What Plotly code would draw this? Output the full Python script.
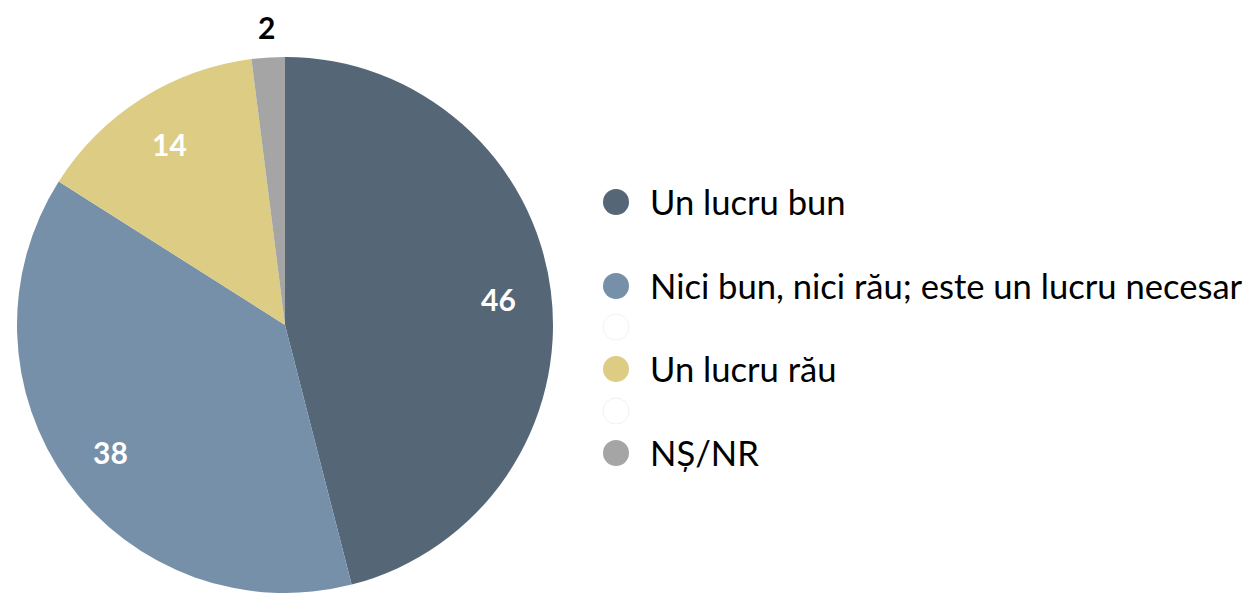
import math
import plotly.graph_objects as go

labels = ["Un lucru bun", "Nici bun, nici rău; este un lucru necesar", "Un lucru rău", "NȘ/NR"]
values = [46, 38, 14, 2]
colors = ["#556677", "#7590A8", "#DDCD84", "#A5A5A5"]
text_colors = ["white", "white", "white", "black"]
label_radius = [0.8, 0.8, 0.8, 1.115]  # fraction of pie radius

W, H = 1252, 593
FONT = "Lato"

fig = go.Figure()

R = 269
cx, cy = 285, 326
fig.add_trace(go.Pie(
    labels=labels, values=values, sort=False, direction="clockwise", rotation=0,
    marker=dict(colors=colors, line=dict(width=0)),
    textinfo="none", showlegend=False, hoverinfo="label+value",
    domain=dict(x=[(cx - R) / W, (cx + R) / W], y=[max(0, (H - cy - R) / H), (H - cy + R) / H]),
))

# value labels placed at mid-angle of each slice
total = sum(values)
cum = 0
for v, tc, lr in zip(values, text_colors, label_radius):
    mid = (cum + v / 2) / total * 2 * math.pi
    cum += v
    px = cx + lr * R * math.sin(mid)
    py = cy - lr * R * math.cos(mid)
    fig.add_annotation(x=px / W, y=1 - py / H, xref="paper", yref="paper",
                       text=f"<b>{v}</b>", showarrow=False,
                       xanchor="center", yanchor="middle",
                       font=dict(family=FONT, size=30, color=tc))

# custom legend with circle markers
leg_y = [202, 286, 369, 453]
blank_y = [327, 411]
mx, tx, r = 616, 648, 13
for y, lab, col in zip(leg_y, labels, colors):
    fig.add_shape(type="circle", xref="paper", yref="paper",
                  x0=(mx - r) / W, x1=(mx + r) / W, y0=1 - (y + r) / H, y1=1 - (y - r) / H,
                  fillcolor=col, line=dict(width=0))
    fig.add_annotation(x=tx / W, y=1 - (y - 1) / H, xref="paper", yref="paper", text=lab,
                       showarrow=False, xanchor="left", yanchor="middle",
                       font=dict(family=FONT, size=34.6, color="black"))
for y in blank_y:
    fig.add_shape(type="circle", xref="paper", yref="paper",
                  x0=(mx - r) / W, x1=(mx + r) / W, y0=1 - (y + r) / H, y1=1 - (y - r) / H,
                  fillcolor="white", line=dict(width=1, color="#F2F2F2"))

fig.update_layout(width=W, height=H, margin=dict(l=0, r=0, t=0, b=0),
                  paper_bgcolor="white", plot_bgcolor="white",
                  font=dict(family=FONT))
fig.write_html("out.html", config={"displayModeBar": False},
               post_script="document.body.style.margin='0';document.body.style.overflow='hidden';")
